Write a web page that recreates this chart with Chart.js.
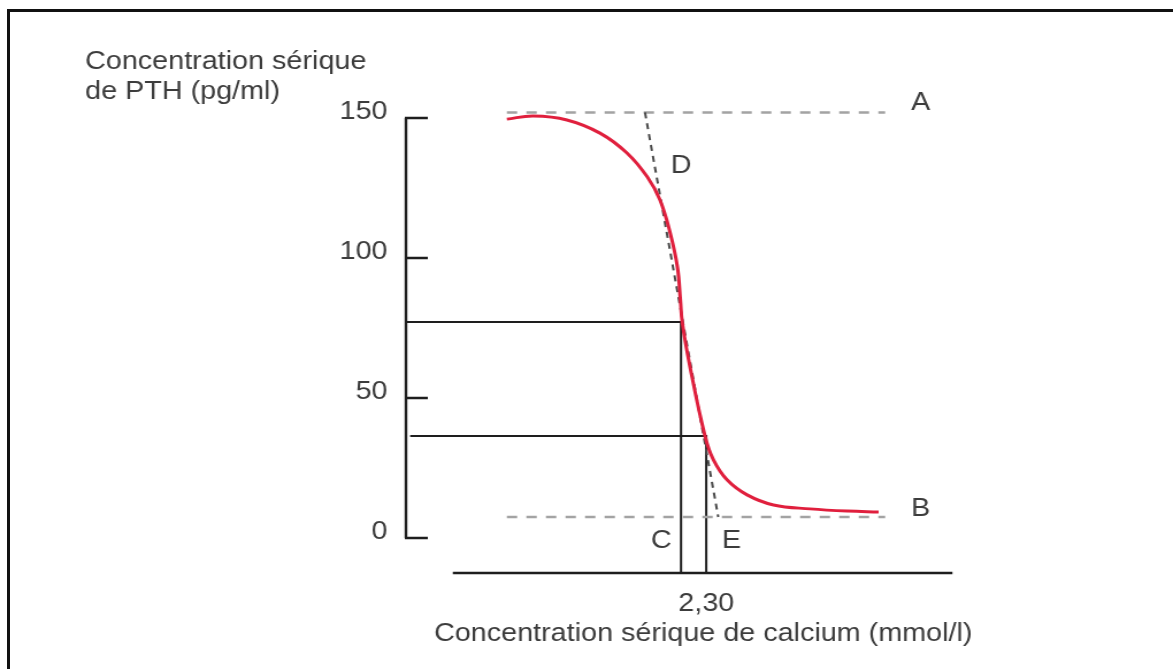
<!DOCTYPE html>
<html>
<head>
<meta charset="utf-8">
<script src="https://cdn.jsdelivr.net/npm/chart.js@4.4.1/dist/chart.umd.min.js"></script>
<style>
  html, body { margin: 0; padding: 0; background: #fff; overflow: hidden; }
  #frame {
    position: absolute; left: 7px; top: 9px; width: 1200px; height: 700px;
    border-left: 3px solid #111; border-top: 3px solid #111;
  }
  #pthChart { position: absolute; left: 0; top: 0; }
</style>
</head>
<body>
<div id="frame"></div>
<!-- the source picture is stretched sideways, so the canvas is too -->
<canvas id="pthChart" width="1020" height="669" style="width:1173px;height:669px"></canvas>
<script>
// serum calcium (mmol/l) vs PTH (pg/ml)
const calcium = [1.968, 2.012, 2.068, 2.123, 2.168, 2.202, 2.223, 2.240, 2.252, 2.257,
                 2.260, 2.273, 2.298, 2.312, 2.335, 2.368, 2.412, 2.473, 2.535, 2.587];
const pth = [149.6, 150.7, 149.3, 144.6, 137.5, 128.9, 120.7, 108.9, 96.8, 85.0,
             77.1, 61.1, 36.4, 27.9, 20.7, 15.4, 11.8, 10.4, 9.6, 9.3];

// plateaus A (max secretion) and B (min secretion)
const plateauX = [1.968, 2.598];
const plateauHigh = 152;
const plateauLow = 7.5;

// tangent through the inflexion (D ... E)
const tangentX = [2.198, 2.320];
const tangentY = [152, 7.5];

// reference lines C and E
const refX = [2.258, 2.30];
const refY = [77.1, 36.4];
const refStartX = [1.80, 1.807];

const yTicks = [0, 50, 100, 150];
const xTicks = [2.30];
const xTickLabels = ['2,30'];
const xAxisSpan = [1.878, 2.71];

const yTitle = ['Concentration sérique', 'de PTH (pg/ml)'];
const xTitle = 'Concentration sérique de calcium (mmol/l)';

const FONT = '"Liberation Sans", Arial, Helvetica, sans-serif';
const TEXT = '#3c3c3c';
const INK = '#1e1e1e';

const pts = (xs, ys) => xs.map((v, i) => ({ x: v, y: ys[i] }));

const overlay = {
  id: 'overlay',
  afterDraw(chart) {
    const { ctx, chartArea, scales: { x, y } } = chart;
    ctx.save();
    ctx.strokeStyle = INK;
    ctx.lineWidth = 2.4;
    ctx.setLineDash([]);

    // y axis with inward ticks
    const left = chartArea.left;
    ctx.beginPath();
    ctx.moveTo(left, y.getPixelForValue(yTicks[0]));
    ctx.lineTo(left, y.getPixelForValue(yTicks[yTicks.length - 1]));
    yTicks.forEach(v => {
      const py = y.getPixelForValue(v);
      ctx.moveTo(left - 1, py);
      ctx.lineTo(left + 19, py);
    });
    ctx.stroke();

    // x axis
    ctx.beginPath();
    ctx.moveTo(x.getPixelForValue(xAxisSpan[0]), chartArea.bottom);
    ctx.lineTo(x.getPixelForValue(xAxisSpan[1]), chartArea.bottom);
    ctx.stroke();

    // letters
    const letters = [
      { t: 'A', x: 2.657, y: 155.4 },
      { t: 'B', x: 2.657, y: 10.2 },
      { t: 'D', x: 2.258, y: 132.9 },
      { t: 'C', x: 2.225, y: -1.1 },
      { t: 'E', x: 2.342, y: -1.1 }
    ];
    ctx.fillStyle = TEXT;
    ctx.font = '25px ' + FONT;
    ctx.textAlign = 'center';
    ctx.textBaseline = 'middle';
    letters.forEach(l => {
      ctx.fillText(l.t, x.getPixelForValue(l.x), y.getPixelForValue(l.y));
    });

    // y title, top left
    ctx.textAlign = 'left';
    ctx.textBaseline = 'alphabetic';
    ctx.fillText(yTitle[0], 74, 69);
    ctx.fillText(yTitle[1], 74, 99);
    ctx.restore();
  }
};

new Chart(document.getElementById('pthChart'), {
  type: 'line',
  data: {
    datasets: [
      {
        data: pts(calcium, pth),
        borderColor: '#e01f3d',
        borderWidth: 3,
        tension: 0.4
      },
      {
        data: pts(tangentX, tangentY),
        borderColor: '#4a4a4a',
        borderWidth: 2,
        borderDash: [6, 5]
      },
      {
        data: pts(plateauX, [plateauHigh, plateauHigh]),
        borderColor: '#a3a3a3',
        borderWidth: 2.5,
        borderDash: [9, 8]
      },
      {
        data: pts(plateauX, [plateauLow, plateauLow]),
        borderColor: '#a3a3a3',
        borderWidth: 2.5,
        borderDash: [9, 8]
      },
      {
        data: pts([refStartX[0], refX[0], refX[0]], [refY[0], refY[0], -12.5]),
        borderColor: INK,
        borderWidth: 2
      },
      {
        data: pts([refStartX[1], refX[1], refX[1]], [refY[1], refY[1], -12.5]),
        borderColor: INK,
        borderWidth: 2
      }
    ]
  },
  options: {
    responsive: false,
    devicePixelRatio: 1,
    animation: false,
    events: [],
    clip: false,
    layout: { padding: { top: 90, bottom: 18, left: 0, right: 150 } },
    elements: { point: { radius: 0 }, line: { tension: 0 } },
    plugins: { legend: { display: false }, tooltip: { enabled: false } },
    scales: {
      x: {
        type: 'linear',
        min: 1.80,
        max: 2.79,
        grid: { display: false, drawTicks: false },
        border: { display: false },
        afterBuildTicks: s => { s.ticks = xTicks.map(v => ({ value: v })); },
        ticks: {
          padding: 16,
          maxRotation: 0,
          color: TEXT,
          font: { family: FONT, size: 25, lineHeight: 1.2 },
          callback: (v, i) => xTickLabels[i]
        },
        title: {
          display: true,
          text: xTitle,
          color: TEXT,
          // tick padding is counted twice in the axis height, take it back here
          padding: { top: -16, bottom: 2 },
          font: { family: FONT, size: 25, lineHeight: 1.2 }
        }
      },
      y: {
        min: -12.5,
        max: 160,
        grid: { display: false, drawTicks: false },
        border: { display: false },
        afterBuildTicks: s => { s.ticks = yTicks.map(v => ({ value: v })); },
        afterFit: s => { s.width = 353; },
        ticks: {
          padding: 16,
          labelOffset: -6,
          color: TEXT,
          font: { family: FONT, size: 25, lineHeight: 1.2 }
        }
      }
    }
  },
  plugins: [overlay]
});
</script>
</body>
</html>
